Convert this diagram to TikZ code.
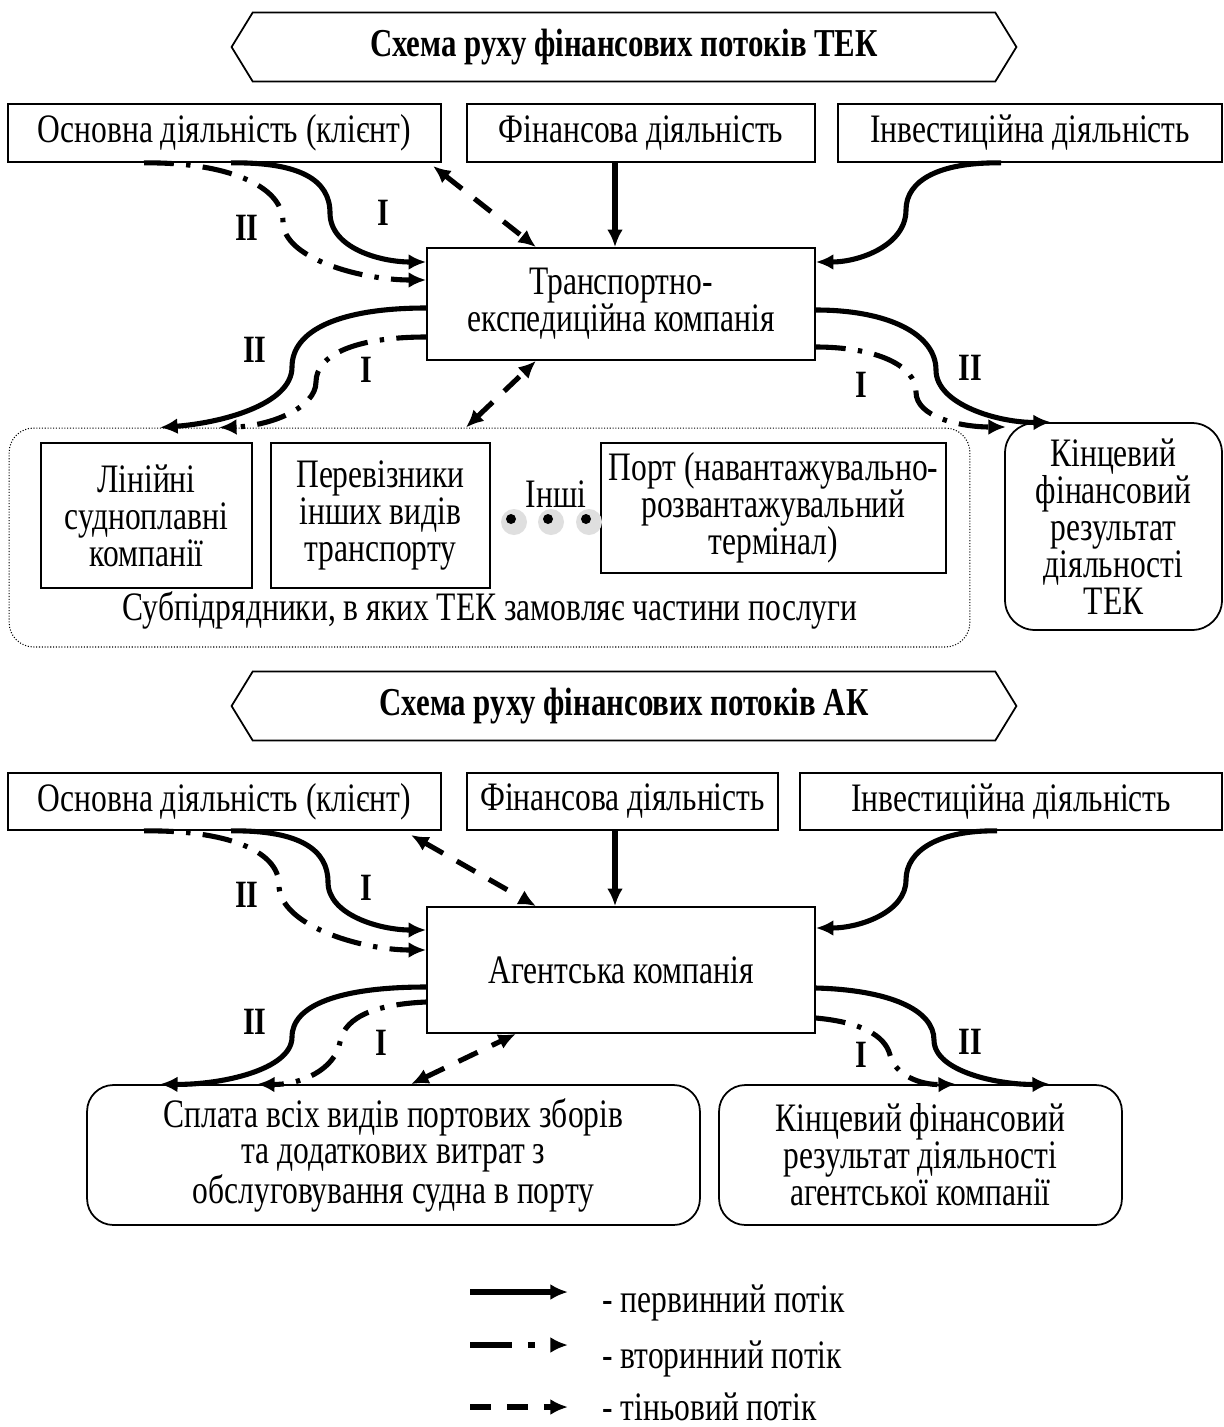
\documentclass[tikz,border=0pt]{standalone}
\usepackage{fontspec}
\setmainfont{Liberation Serif}[FakeStretch=0.78]
\usetikzlibrary{arrows.meta,shapes.symbols}

\begin{document}
\begin{tikzpicture}[x=0.02cm, y=-0.02cm,
  font=\fontsize{23}{21}\selectfont,
  plainBox/.style={draw, line width=1pt, inner sep=2pt, align=center},
  roundBox/.style={draw, line width=1pt, rounded corners=15pt, inner sep=2pt, align=center},
  titleBox/.style={draw, line width=1pt, shape=signal, signal to=west and east, signal pointer angle=117,
    minimum width=15.7cm, minimum height=1.38cm, font=\fontsize{22.5}{21}\selectfont\bfseries},
  flowLabel/.style={font=\fontsize{22}{21}\selectfont\bfseries},
  primaryFlow/.style={line width=2.9pt, -{Latex[length=10pt,width=9pt]}},
  secondaryFlow/.style={line width=2.9pt, dash pattern=on 17pt off 7pt on 2.5pt off 7pt, -{Latex[length=10pt,width=9pt]}},
  shadowFlow/.style={line width=2.9pt, dash pattern=on 12pt off 9pt, {Latex[length=10pt,width=9pt]}-{Latex[length=10pt,width=9pt]}}
]
\useasboundingbox (0,0) rectangle (1224,1427);

% ---- схема ТЕК
\node[titleBox] (title1) at (624,47) {Схема руху фінансових потоків ТЕК};
\node[plainBox, minimum width=8.66cm, minimum height=1.16cm] (opA1) at (224.5,133) {Основна діяльність (клієнт)};
\node[plainBox, minimum width=6.96cm, minimum height=1.16cm] (fin1) at (641,133) {Фінансова діяльність};
\node[plainBox, minimum width=7.68cm, minimum height=1.16cm] (inv1) at (1030,133) {Інвестиційна діяльність};
\node[plainBox, minimum width=7.76cm, minimum height=2.24cm] (tek) at (621,304) {Транспортно-\\експедиційна компанія};

\node[draw, densely dotted, line width=0.6pt, rounded corners=14pt, minimum width=19.22cm, minimum height=4.38cm] (sub) at (489.5,537.5) {};
\node[plainBox, minimum width=4.22cm, minimum height=2.9cm] (lin) at (146.5,515.5) {Лінійні\\судноплавні\\компанії};
\node[plainBox, minimum width=4.38cm, minimum height=2.9cm] (per) at (380.5,515.5) {Перевізники\\інших видів\\транспорту};
\node[plainBox, minimum width=6.9cm, minimum height=2.6cm] (port) at (773.5,508) {Порт (навантажувально-\\розвантажувальний\\термінал)};
\node (inshi) at (556,494) {Інші};
\fill[gray!25] (514,522) circle[radius=13];
\fill (511,519) circle[radius=5];
\fill[gray!25] (551,522) circle[radius=13];
\fill (548,519) circle[radius=5];
\fill[gray!25] (589,522) circle[radius=13];
\fill (586,519) circle[radius=5];
\node (subText) at (490,610) {Субпідрядники, в яких ТЕК замовляє частини послуги};
\node[roundBox, rounded corners=17pt, minimum width=4.34cm, minimum height=4.14cm] (res1) at (1113.5,526.5) {Кінцевий\\фінансовий\\результат\\діяльності\\ТЕК};

\draw[primaryFlow] (615,0 |- fin1.south) -- (615,0 |- tek.north);
\draw[primaryFlow] (1001,0 |- inv1.south) .. controls (940,162) and (906,180) .. (906,210)
  .. controls (906,245) and (860,262) .. (tek.east |- 0,262);
\draw[primaryFlow] (231,0 |- opA1.south) .. controls (300,162) and (330,180) .. (330,213)
  .. controls (330,248) and (380,262) .. (tek.west |- 0,262);
\draw[secondaryFlow] (144,0 |- opA1.south) .. controls (225,162) and (283,185) .. (283,222)
  .. controls (283,258) and (360,280) .. (tek.west |- 0,280);
\draw[shadowFlow] (433,166) -- (536,0 |- tek.north);
\draw[primaryFlow] (tek.west |- 0,308) .. controls (340,308) and (292,330) .. (292,367)
  .. controls (292,405) and (220,423) .. (160,0 |- sub.north);
\draw[secondaryFlow] (tek.west |- 0,337) .. controls (355,337) and (316,355) .. (316,382)
  .. controls (316,408) and (270,426) .. (219,0 |- sub.north);
\draw[shadowFlow] (466,0 |- sub.north) -- (536,0 |- tek.south);
\draw[primaryFlow] (tek.east |- 0,310) .. controls (890,310) and (936,335) .. (936,370)
  .. controls (936,405) and (1000,423) .. (1051,0 |- res1.north);
\draw[secondaryFlow] (tek.east |- 0,347) .. controls (875,347) and (916,365) .. (916,392)
  .. controls (916,417) and (960,427) .. (1006,427);

\node[flowLabel] (lblA) at (383,213) {I};
\node[flowLabel] (lblB) at (247,228) {II};
\node[flowLabel] (lblC) at (255,350) {II};
\node[flowLabel] (lblD) at (366,370) {I};
\node[flowLabel] (lblE) at (970,368) {II};
\node[flowLabel] (lblF) at (861,385) {I};

% ---- схема АК
\node[titleBox] (title2) at (624,706) {Схема руху фінансових потоків АК};
\node[plainBox, minimum width=8.66cm, minimum height=1.14cm] (opA2) at (224.5,801.5) {Основна діяльність (клієнт)};
\node[plainBox, minimum width=6.22cm, minimum height=1.14cm] (fin2) at (622.5,801.5) {Фінансова діяльність};
\node[plainBox, minimum width=8.44cm, minimum height=1.14cm] (inv2) at (1011,801.5) {Інвестиційна діяльність};
\node[plainBox, minimum width=7.76cm, minimum height=2.52cm] (ak) at (621,970) {Агентська компанія};
\node[roundBox, minimum width=12.26cm, minimum height=2.8cm] (fees) at (393.5,1155) {Сплата всіх видів портових зборів\\та додаткових витрат з\\обслуговування судна в порту};
\node[roundBox, minimum width=8.06cm, minimum height=2.8cm] (res2) at (920.5,1155) {Кінцевий фінансовий\\результат діяльності\\агентської компанії};

\draw[primaryFlow] (615,0 |- fin2.south) -- (615,0 |- ak.north);
\draw[primaryFlow] (997,0 |- inv2.south) .. controls (940,830) and (906,850) .. (906,880)
  .. controls (906,912) and (860,928) .. (ak.east |- 0,928);
\draw[primaryFlow] (231,0 |- opA2.south) .. controls (300,830) and (328,850) .. (328,882)
  .. controls (328,915) and (380,930) .. (ak.west |- 0,930);
\draw[secondaryFlow] (144,0 |- opA2.south) .. controls (225,830) and (279,850) .. (279,885)
  .. controls (279,925) and (360,950) .. (ak.west |- 0,950);
\draw[shadowFlow] (411,835) -- (536,0 |- ak.north);
\draw[primaryFlow] (ak.west |- 0,987) .. controls (340,987) and (292,1005) .. (292,1037)
  .. controls (292,1070) and (220,1085) .. (160,0 |- fees.north);
\draw[secondaryFlow] (ak.west |- 0,1002) .. controls (380,1004) and (345,1015) .. (340,1042)
  .. controls (335,1070) and (300,1085) .. (257,0 |- fees.north);
\draw[shadowFlow] (411,0 |- fees.north) -- (516,0 |- ak.south);
\draw[primaryFlow] (ak.east |- 0,988) .. controls (890,990) and (934,1010) .. (934,1040)
  .. controls (934,1072) and (1000,1085) .. (1050,0 |- res2.north);
\draw[secondaryFlow] (ak.east |- 0,1018) .. controls (860,1022) and (885,1035) .. (890,1055)
  .. controls (895,1075) and (920,1085) .. (956,0 |- res2.north);

\node[flowLabel] (lblG) at (366,888) {I};
\node[flowLabel] (lblH) at (247,895) {II};
\node[flowLabel] (lblJ) at (255,1022) {II};
\node[flowLabel] (lblK) at (381,1043) {I};
\node[flowLabel] (lblL) at (970,1042) {II};
\node[flowLabel] (lblM) at (861,1055) {I};

% ---- легенда
\coordinate (leg1s) at (470,1292);
\coordinate (leg1e) at (568,1292);
\coordinate (leg2s) at (470,1345);
\coordinate (leg2e) at (568,1345);
\coordinate (leg3s) at (470,1407);
\coordinate (leg3e) at (568,1407);
\draw[primaryFlow] (leg1s) -- (leg1e);
\draw[line width=2.9pt, dash pattern=on 24pt off 9pt on 4pt off 9pt, -{Latex[length=10pt,width=9pt]}] (leg2s) -- (leg2e);
\draw[line width=2.9pt, dash pattern=on 12pt off 9pt, -{Latex[length=10pt,width=9pt]}] (leg3s) -- (leg3e);
\node[anchor=base west, inner sep=0pt] (legTxt1) at (602,1312) {- первинний потік};
\node[anchor=base west, inner sep=0pt] (legTxt2) at (602,1368) {- вторинний потік};
\node[anchor=base west, inner sep=0pt] (legTxt3) at (602,1420) {- тіньовий потік};
\end{tikzpicture}
\end{document}
